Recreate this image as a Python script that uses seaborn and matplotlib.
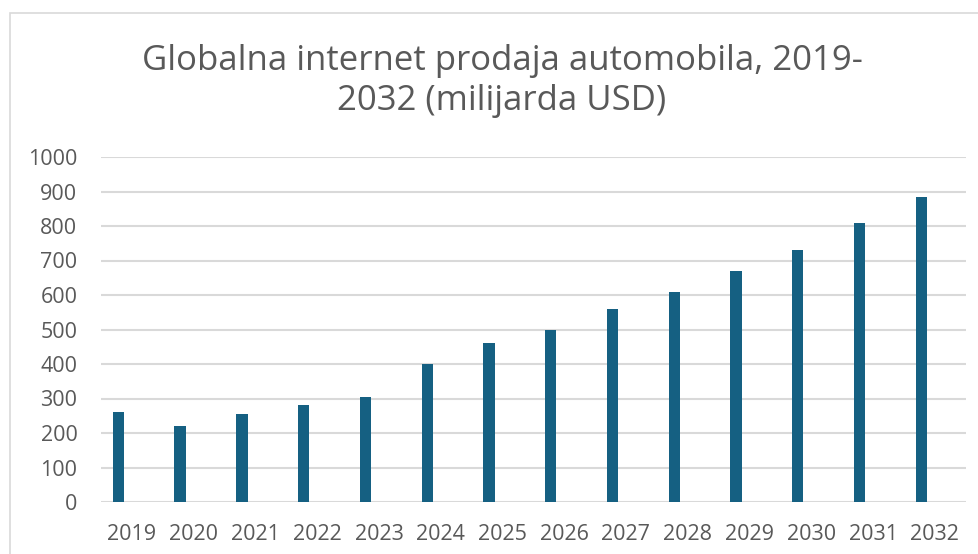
import matplotlib
matplotlib.use("Agg")
import matplotlib.pyplot as plt
import matplotlib.transforms as mtransforms
from matplotlib.patches import Rectangle
import seaborn as sns
import pandas as pd

years = ["2019", "2020", "2021", "2022", "2023", "2024", "2025",
         "2026", "2027", "2028", "2029", "2030", "2031", "2032"]
sales = [260, 220, 255, 280, 305, 400, 460, 500, 560, 610, 670, 730, 810, 885]
yticks = [0, 100, 200, 300, 400, 500, 600, 700, 800, 900, 1000]
title = "Globalna internet prodaja automobila, 2019-\n2032 (milijarda USD)"

df = pd.DataFrame({"year": years, "sales": sales})

sns.set_theme(style="white")
plt.rcParams["font.family"] = ["Open Sans", "DejaVu Sans"]

TEXT = "#595959"
BAR = "#156082"
GRID = "#D9D9D9"

fig = plt.figure(figsize=(9.79, 5.54), dpi=100)
fig.patch.set_facecolor("white")
W, H = 979, 554
ax = fig.add_axes([101 / W, 1 - 502 / H, (965.7 - 101) / W, (502 - 157) / H])

sns.barplot(data=df, x="year", y="sales", color=BAR, width=0.183,
            saturation=1, ax=ax, zorder=3, edgecolor="none", linewidth=0)

# shift bars to the left of category centres (as in the reference)
shift = mtransforms.ScaledTranslation(-13.5 / 100, 0, fig.dpi_scale_trans)
for p in ax.patches:
    p.set_transform(ax.transData + shift)

ax.set_xlim(-0.5, 13.5)
ax.set_ylim(0, 1000)
ax.set_yticks(yticks)
ax.set_yticklabels([str(v) for v in yticks])
ax.set_xlabel("")
ax.set_ylabel("")
ax.grid(axis="y", color=GRID, linewidth=1.5, zorder=0)
ax.set_axisbelow(True)
for s in ax.spines.values():
    s.set_visible(False)
ax.tick_params(axis="y", length=0, pad=17, labelsize=15.5, labelcolor=TEXT)
ax.tick_params(axis="x", length=0, pad=15.5, labelsize=15.5, labelcolor=TEXT)
ax.set_facecolor("white")

fig.text(502 / W, 1 - 81 / H, title, ha="center", va="center",
         fontsize=25, color=TEXT, linespacing=1.25)

fig.patches.append(Rectangle((10 / W, -0.1), 1.2, 1 - 12.5 / H + 0.1,
                             transform=fig.transFigure, fill=False,
                             edgecolor=GRID, linewidth=1.2))

fig.savefig("out.png", dpi=100, facecolor="white")
